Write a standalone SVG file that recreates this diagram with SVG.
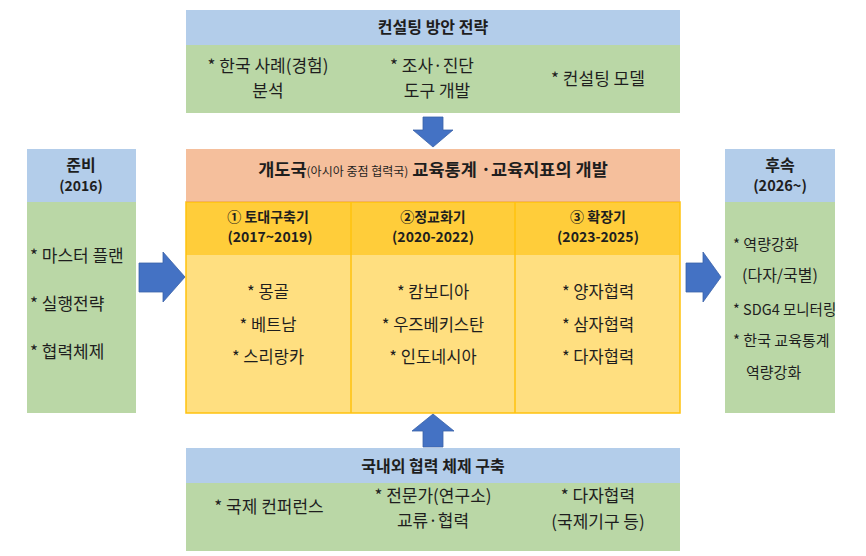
<svg xmlns="http://www.w3.org/2000/svg" width="866" height="556" viewBox="0 0 866 556">
<style>
text{font-family:"Noto Sans CJK KR","Noto Sans",sans-serif;fill:#1e1e1e;}
.h{font-weight:bold;font-size:16px;text-anchor:middle;}
.p{font-weight:bold;font-size:14px;text-anchor:middle;}
.t{font-size:17px;}
.m{font-size:16.5px;}
.r{font-size:15px;}
.c{text-anchor:middle;}
.blue{fill:#B3CDEA;}
.green{fill:#BAD7A6;}
.arrow{fill:#4472C4;stroke:#3A62A8;stroke-width:0.8;}
</style>
<rect width="866" height="556" fill="#ffffff"/>

<g id="consulting">
<rect class="blue" x="186" y="10" width="494" height="35"/>
<rect class="green" x="186" y="45" width="494" height="68"/>
<text class="h" x="433" y="33">컨설팅 방안 전략</text>
<text class="t c" x="268" y="72">* 한국 사례(경험)</text>
<text class="t c" x="268" y="97">분석</text>
<text class="t c" x="432" y="72">* 조사·진단</text>
<text class="t c" x="437" y="97">도구 개발</text>
<text class="t c" x="598" y="85">* 컨설팅 모델</text>
</g>

<g id="prep">
<rect class="blue" x="27" y="149" width="109" height="53"/>
<rect class="green" x="27" y="202" width="109" height="211"/>
<text class="h" x="81" y="171">준비</text>
<text class="h" x="81" y="191" style="font-size:14px">(2016)</text>
<text class="t" x="30" y="262">* 마스터 플랜</text>
<text class="t" x="30" y="310">* 실행전략</text>
<text class="t" x="30" y="358">* 협력체제</text>
</g>

<g id="main">
<rect x="186" y="149" width="494" height="53" fill="#F5BF9C"/>
<text class="h" x="433" y="176" style="font-size:17.5px">개도국<tspan style="font-size:12px;font-weight:normal">(아시아 중점 협력국)</tspan> 교육통계 ·교육지표의 개발</text>
<rect x="186" y="202" width="494" height="53" fill="#FFCD3A"/>
<rect x="186" y="255" width="494" height="158" fill="#FFDF80"/>
<rect x="186" y="202" width="494" height="211" fill="none" stroke="#FFC20E" stroke-width="1.5"/>
<line x1="351" y1="202" x2="351" y2="413" stroke="#FFC20E" stroke-width="1.5"/>
<line x1="515" y1="202" x2="515" y2="413" stroke="#FFC20E" stroke-width="1.5"/>
<line x1="186" y1="201.5" x2="680" y2="201.5" stroke="#F2B063" stroke-width="1"/>
</g>

<g id="phase1">
<text class="p" x="268" y="222">① 토대구축기</text>
<text class="p" x="270" y="242">(2017~2019)</text>
<text class="m c" x="268" y="298">* 몽골</text>
<text class="m c" x="268" y="331">* 베트남</text>
<text class="m c" x="268" y="363">* 스리랑카</text>
</g>

<g id="phase2">
<text class="p" x="433" y="222">②정교화기</text>
<text class="p" x="433" y="242">(2020-2022)</text>
<text class="m c" x="433" y="298">* 캄보디아</text>
<text class="m c" x="433" y="331">* 우즈베키스탄</text>
<text class="m c" x="433" y="363">* 인도네시아</text>
</g>

<g id="phase3">
<text class="p" x="598" y="222">③ 확장기</text>
<text class="p" x="598" y="242">(2023-2025)</text>
<text class="m c" x="598" y="298">* 양자협력</text>
<text class="m c" x="598" y="331">* 삼자협력</text>
<text class="m c" x="598" y="363">* 다자협력</text>
</g>

<g id="followup">
<rect class="blue" x="725" y="149" width="110" height="53"/>
<rect class="green" x="725" y="202" width="110" height="211"/>
<text class="h" x="780" y="171">후속</text>
<text class="h" x="780" y="191" style="font-size:14.5px">(2026~)</text>
<text class="r" x="733" y="250">* 역량강화</text>
<text class="r" x="742" y="281" style="font-size:16px">(다자/국별)</text>
<text class="r" x="733" y="315" style="font-size:14.5px">* SDG4 모니터링</text>
<text class="r" x="733" y="346">* 한국 교육통계</text>
<text class="r" x="746" y="378">역량강화</text>
</g>

<g id="cooperation">
<rect class="blue" x="186" y="448" width="494" height="35"/>
<rect class="green" x="186" y="483" width="494" height="68"/>
<text class="h" x="433" y="472">국내외 협력 체제 구축</text>
<text class="t c" x="269" y="513">* 국제 컨퍼런스</text>
<text class="t c" x="433" y="502">* 전문가(연구소)</text>
<text class="t c" x="433" y="527">교류·협력</text>
<text class="t c" x="598" y="502">* 다자협력</text>
<text class="t c" x="598" y="528">(국제기구 등)</text>
</g>

<g id="connectors">
<polygon class="arrow" points="423,117 443,117 443,130 453,130 433,147 413,130 423,130"/>
<polygon class="arrow" points="139,263 163,263 163,252 185,277 163,302 163,292 139,292"/>
<polygon class="arrow" points="686,263 703,263 703,252 721,277 703,302 703,292 686,292"/>
<polygon class="arrow" points="423,447 443,447 443,431 454,431 433,414 412,431 423,431"/>
</g>
</svg>
